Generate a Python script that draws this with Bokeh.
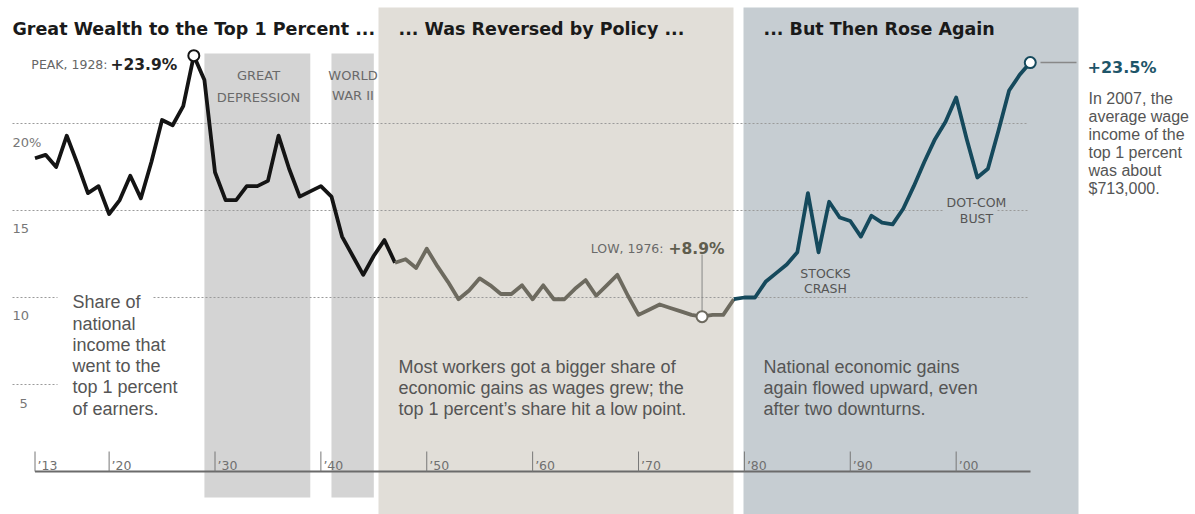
from bokeh.plotting import figure
from bokeh.models import Range1d
from bokeh.core.properties import value
from bokeh.embed import file_html
from bokeh.resources import INLINE

# ---------------- data (share of national income to top 1%, %) ----------------
early_years = list(range(1913, 1948))
early_share = [18.0, 18.2, 17.5, 19.3, 17.7, 16.0, 16.4, 14.8, 15.6, 17.0,
               15.7, 17.8, 20.2, 19.9, 21.0, 23.9, 22.5, 17.2, 15.6, 15.6,
               16.4, 16.4, 16.7, 19.3, 17.4, 15.8, 16.1, 16.4, 15.8, 13.5,
               12.4, 11.3, 12.4, 13.3, 12.0]
middle_years = list(range(1947, 1980))
middle_share = [12.0, 12.2, 11.7, 12.8, 11.8, 10.9, 9.9, 10.4, 11.1, 10.7,
                10.2, 10.2, 10.7, 9.9, 10.7, 9.9, 9.9, 10.5, 11.0, 10.1,
                10.7, 11.3, 10.1, 9.0, 9.3, 9.6, 9.4, 9.2, 9.0, 8.9,
                9.0, 9.0, 9.9]
late_years = list(range(1979, 2008))
late_share = [9.9, 10.0, 10.0, 10.9, 11.4, 11.9, 12.6, 16.0, 12.6, 15.5,
              14.6, 14.4, 13.5, 14.7, 14.3, 14.2, 15.1, 16.4, 17.8, 19.1,
              20.1, 21.5, 19.1, 16.9, 17.4, 19.6, 21.9, 22.8, 23.5]

tick_years = [1913, 1920, 1930, 1940, 1950, 1960, 1970, 1980, 1990, 2000]
tick_labels = ["\u201913", "\u201920", "\u201930", "\u201940", "\u201950",
               "\u201960", "\u201970", "\u201980", "\u201990", "\u201900"]
grid_levels = [20, 15, 10, 5]
grid_labels = ["20%", "15", "10", "5"]

shade_start = [1929, 1941]
shade_end = [1939, 1945]
era_titles = ["Great Wealth to the Top 1 Percent ...",
              "... Was Reversed by Policy ...",
              "... But Then Rose Again"]

# ---------------- layout helpers (image pixels -> data units) ----------------
PXY = 10.588      # px per year
X1930 = 214.5     # px of 1930
PXV = 17.4        # px per percent
Y0 = 471.0        # px of 0 %
W, H = 1195, 514


def X(px):
    return 1930 + (px - X1930) / PXY


def Y(py):
    return (Y0 - py) / PXV


p = figure(width=W, height=H, output_backend="svg", toolbar_location=None,
           x_range=Range1d(X(0), X(W)), y_range=Range1d(Y(H), Y(0)),
           x_axis_type=None, y_axis_type=None, min_border=0,
           outline_line_color=None, background_fill_color="white",
           border_fill_color="white")

# ---------------- backgrounds ----------------
p.quad(left=[X(378)], right=[X(733)], bottom=[Y(520)], top=[Y(7)],
       fill_color="#e1ded8", line_color=None)
p.quad(left=[X(743)], right=[X(1078)], bottom=[Y(520)], top=[Y(7)],
       fill_color="#c6cdd2", line_color=None)
p.quad(left=shade_start, right=shade_end, bottom=[Y(497)] * 2, top=[Y(53)] * 2,
       fill_color="#d4d4d4", line_color=None)

# ---------------- gridlines ----------------
GRID_COLOR = "#9a9a9a"
grid_segments = {
    20: [(12, 1028)],
    15: [(12, 943), (997, 1028)],
    10: [(12, 57), (153, 1028)],
    5: [(12, 57)],
}
for lvl in grid_levels:
    for a, b in grid_segments[lvl]:
        p.segment(x0=[X(a)], y0=[lvl], x1=[X(b)], y1=[lvl],
                  line_color=GRID_COLOR, line_width=1, line_dash="2 2")

FONT = value("DejaVu Sans")
BODY = value("Liberation Sans")


def txt(px, py, s, size, color, font=FONT, bold=False, align="left"):
    p.text(x=[X(px)], y=[Y(py)], text=[s], text_font=font,
           text_font_size=f"{size}px", text_color=color,
           text_font_style="bold" if bold else "normal",
           text_align=align, text_baseline="alphabetic")


# y labels
label_px = [12, 12, 12, 19]
label_base = [141.7, 228.3, 315.0, 403.3]
for lab, lx, lb in zip(grid_labels, label_px, label_base):
    txt(lx, lb, lab, 13, "#777777")

# ---------------- x axis ----------------
p.segment(x0=[tick_years[0]], y0=[0], x1=[X(1030)], y1=[0],
          line_color="#6b6b6b", line_width=2)
p.segment(x0=tick_years, y0=[0] * len(tick_years), x1=tick_years,
          y1=[Y(451)] * len(tick_years), line_color="#777777", line_width=1)
p.text(x=[t + 2.5 / PXY for t in tick_years], y=[Y(465)] * len(tick_years),
       text=tick_labels, text_font=FONT, text_font_size="12.5px",
       text_color="#707070", text_baseline="alphabetic", text_align="left")

# ---------------- lines ----------------
BLACK, GRAY, TEAL = "#141414", "#6d6a5f", "#15495c"
for xs, ys, c in [(early_years, early_share, BLACK),
                  (middle_years, middle_share, GRAY),
                  (late_years, late_share, TEAL)]:
    p.line(xs, ys, line_color=c, line_width=3.8, line_join="round")

# highlight points
pk = early_share.index(max(early_share))
lo = middle_share.index(min(middle_share))
peak_year, peak_val = early_years[pk], early_share[pk]
low_year, low_val = middle_years[lo], middle_share[lo]
end_year, end_val = late_years[-1], late_share[-1]

# leader lines
p.segment(x0=[low_year], y0=[Y(254)], x1=[low_year], y1=[low_val],
          line_color="#888888", line_width=1)
p.segment(x0=[X(1040)], y0=[end_val], x1=[X(1076)], y1=[end_val],
          line_color="#888888", line_width=1.5)

p.scatter([peak_year], [peak_val], size=11, fill_color="white",
          line_color=BLACK, line_width=2)
p.scatter([low_year], [low_val], size=11, fill_color="white",
          line_color=GRAY, line_width=2)
p.scatter([end_year], [end_val], size=11, fill_color="white",
          line_color=TEAL, line_width=2)

# ---------------- titles ----------------
for tx, t in zip([12, 398, 763], era_titles):
    txt(tx, 28.3, t, 17.5, "#1a1a1a", bold=True)

# ---------------- annotations ----------------
txt(107, 63.5, f"PEAK, {peak_year}:", 12.5, "#666666", align="right")
txt(110, 64.0, f"+{peak_val:.1f}%", 15.5, "#222222", bold=True)

txt(663, 248.3, f"LOW, {low_year}:", 12.5, "#6a6a6a", align="right")
txt(668, 248.3, f"+{low_val:.1f}%", 15.5, "#5f5d4e", bold=True)

txt(1087, 66.7, f"+{end_val:.1f}%", 16, "#1e5569", bold=True)
note = ["In 2007, the", "average wage", "income of the", "top 1 percent",
        "was about", "$713,000."]
for i, s in enumerate(note):
    txt(1088, 98.3 + 18 * i, s, 16, "#555555", font=BODY)

txt(258, 75, "GREAT", 13, "#6a6a6a", align="center")
txt(258, 96.7, "DEPRESSION", 13, "#6a6a6a", align="center")
txt(352.5, 75, "WORLD", 13, "#6a6a6a", align="center")
txt(352.5, 95, "WAR II", 13, "#6a6a6a", align="center")

txt(825, 273.3, "STOCKS", 12.5, "#555555", align="center")
txt(825, 288.3, "CRASH", 12.5, "#555555", align="center")
txt(976, 201.7, "DOT-COM", 12.5, "#555555", align="center")
txt(976, 218.3, "BUST", 12.5, "#555555", align="center")

left_note = ["Share of", "national", "income that", "went to the",
             "top 1 percent", "of earners."]
for i, s in enumerate(left_note):
    txt(72, 301.7 + 21.3 * i, s, 18, "#555555", font=BODY)

mid_note = ["Most workers got a bigger share of",
            "economic gains as wages grew; the",
            "top 1 percent\u2019s share hit a low point."]
for i, s in enumerate(mid_note):
    txt(398, 366 + 21.3 * i, s, 18, "#555555", font=BODY)

right_note = ["National economic gains", "again flowed upward, even",
              "after two downturns."]
for i, s in enumerate(right_note):
    txt(763, 366 + 21.3 * i, s, 18, "#555555", font=BODY)

open("out.html", "w").write(file_html(p, INLINE))
